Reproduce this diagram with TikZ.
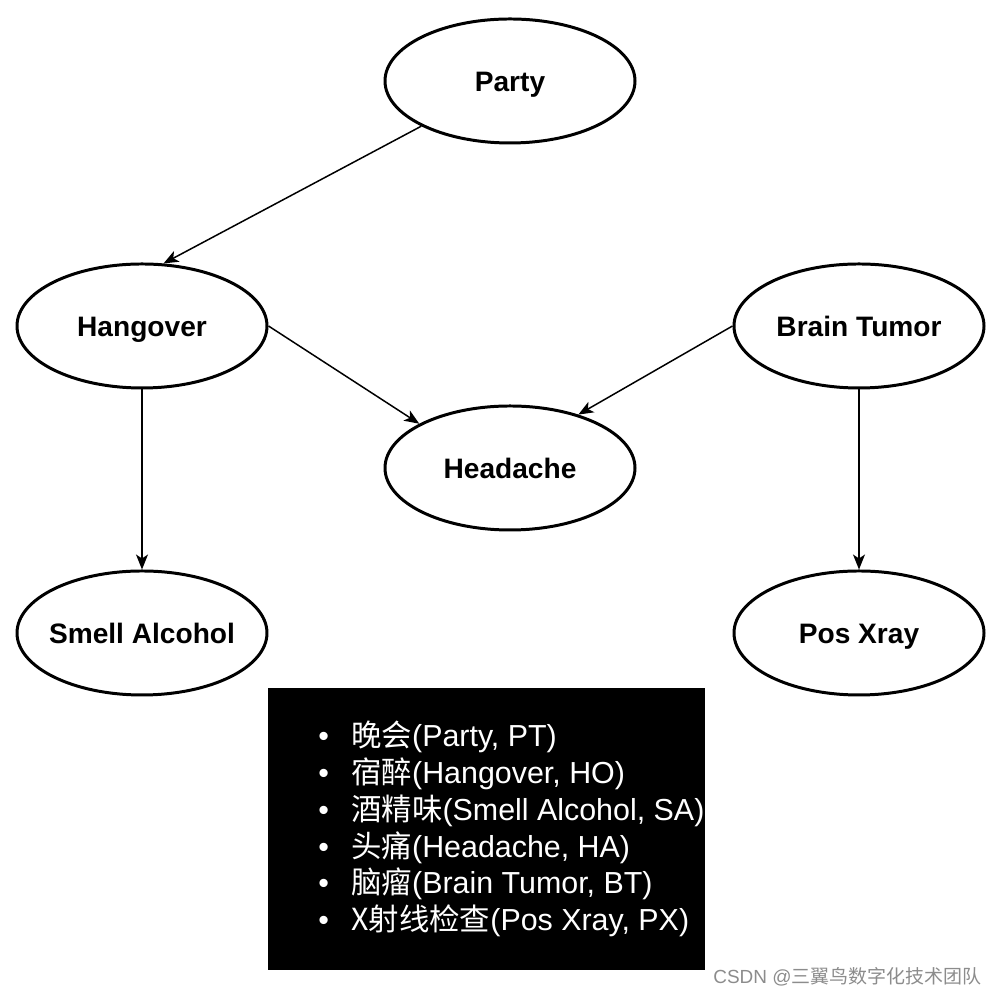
\documentclass[tikz,border=0pt]{standalone}
\usepackage{fontspec}
\setmainfont{Liberation Sans}
\newfontfamily\cjk{Noto Sans CJK SC}
\usetikzlibrary{shapes.geometric,arrows.meta}

\newcommand\legline[2]{\makebox[0.66cm][l]{\textbullet}{\cjk #1}#2}
\newcommand\lbl[1]{\makebox[0pt]{#1}}

\begin{document}
\begin{tikzpicture}[
    bnode/.style={ellipse, draw, line width=1.7pt, minimum width=5cm, minimum height=2.48cm,
      inner sep=0pt, text height=11.5pt, text depth=0pt, font=\fontsize{16}{18}\selectfont\bfseries},
    edge/.style={-{Stealth[length=3mm,width=2.4mm,inset=0.8mm]}, line width=0.85pt}
  ]
    \useasboundingbox (0,0) rectangle (20,19.98);
    \node[bnode] (pt) at (10.2, 18.36) {\lbl{Party}};
    \node[bnode] (ho) at (2.84, 13.46) {\lbl{Hangover}};
    \node[bnode] (bt) at (17.18, 13.46) {\lbl{Brain Tumor}};
    \node[bnode] (ha) at (10.2, 10.62) {\lbl{Headache}};
    \node[bnode] (sa) at (2.84, 7.32) {\lbl{Smell Alcohol}};
    \node[bnode] (px) at (17.18, 7.32) {\lbl{Pos Xray}};
    \draw [edge] (pt.207) to (ho.71);
    \draw [edge] (ho.east) to (ha.154);
    \draw [edge] (bt.west) to (ha.38);
    \draw [edge] (ho.south) to (sa.north);
    \draw [edge] (bt.south) to (px.north);
    % legend
    \node[fill=black, minimum width=8.74cm, minimum height=5.64cm, inner sep=0pt] (legbox) at (9.73, 3.4) {};
    \node[anchor=west, text=white, align=left, inner sep=0pt,
      font=\fontsize{17.3}{21}\selectfont] (legend) at (6.36, 3.4) {%
      \legline{晚会}{(Party, PT)}\\
      \legline{宿醉}{(Hangover, HO)}\\
      \legline{酒精味}{(Smell Alcohol, SA)}\\
      \legline{头痛}{(Headache, HA)}\\
      \legline{脑瘤}{(Brain Tumor, BT)}\\
      \legline{X射线检查}{(Pos Xray, PX)}};
    \node[anchor=base west, inner sep=0pt, text=black!45,
      font=\fontsize{10.8}{13}\selectfont] (mark) at (14.26, 0.3) {CSDN @{\cjk 三翼鸟数字化技术团队}};
\end{tikzpicture}
\end{document}
